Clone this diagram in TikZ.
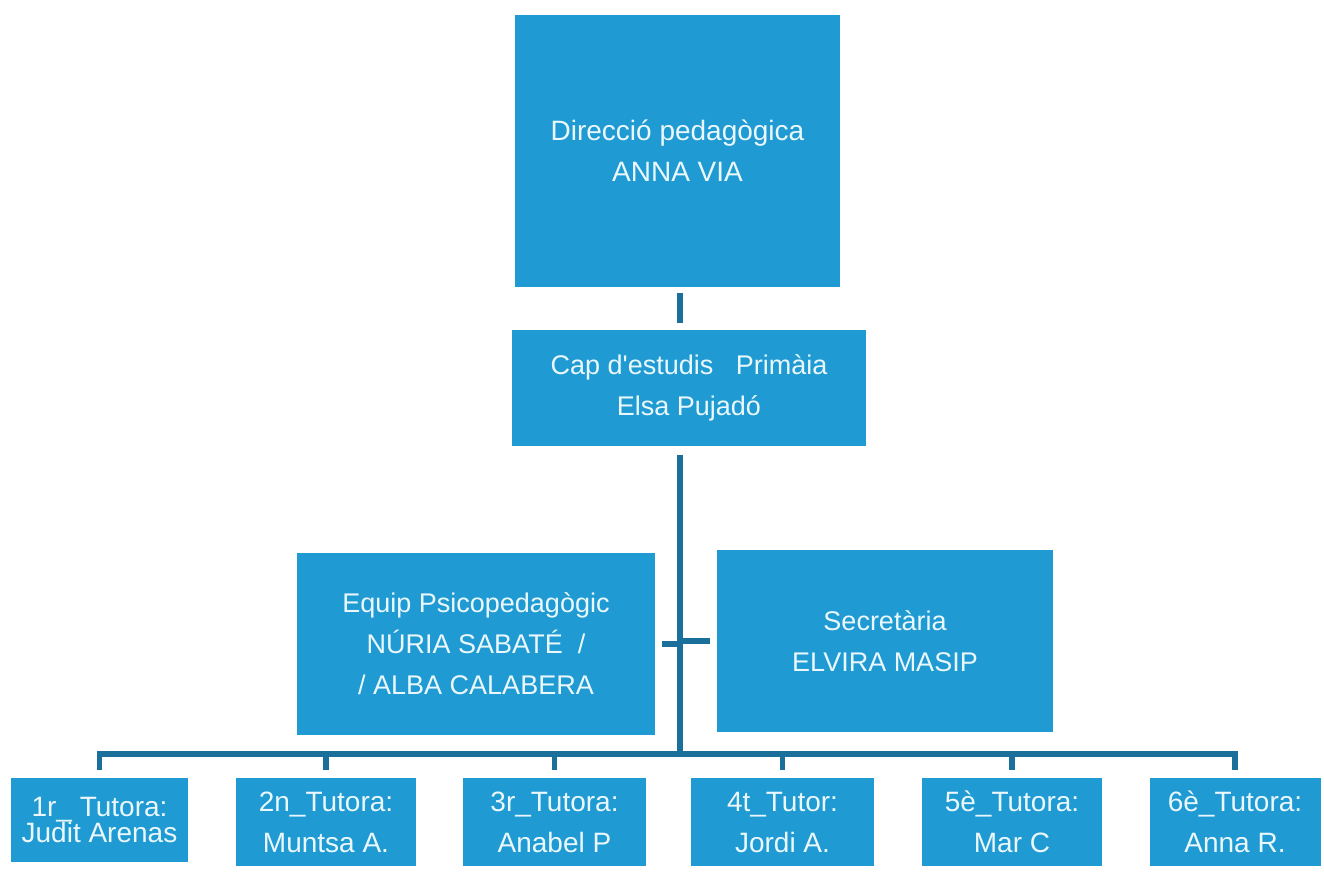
\documentclass[tikz,border=0pt]{standalone}
\usepackage{fontspec}
\setmainfont{Liberation Sans}
\usetikzlibrary{positioning,calc}
\definecolor{boxblue}{HTML}{1F9AD2}
\definecolor{linkblue}{HTML}{1B6F9B}
\definecolor{boxtext}{HTML}{EAF8FD}

\begin{document}
\begin{tikzpicture}[
    x=1pt, y=-1pt,
    box/.style={rectangle, fill=boxblue, text=boxtext, align=center, inner sep=0pt, font=\fontsize{27}{41}\selectfont},
    tutor/.style={box, minimum height=88pt, font=\fontsize{28}{41}\selectfont},
    link/.style={draw=linkblue, line width=5.5pt}
  ]
    \fill[white] (0,0) rectangle (1324,892);

    % Nodes - top of the chart
    \node (dir) [box, minimum width=325pt, minimum height=272pt, font=\fontsize{28}{41}\selectfont] at (677.5,151) {Direcció pedagògica\\ANNA VIA};
    \node (cap) [box, minimum width=354pt, minimum height=116pt] at (689,388) {Cap d\textquotesingle estudis~~~Primàia\\Elsa Pujadó};

    % Side boxes
    \node (equip) [box, minimum width=358pt, minimum height=182pt] at (476,644) {Equip Psicopedagògic\\NÚRIA SABATÉ~~/\\/ ALBA CALABERA};
    \node (secr) [box, minimum width=336pt, minimum height=182pt] at (885,641) {Secretària\\ELVIRA MASIP};

    % Tutors
    \node (t1) [tutor, minimum width=177pt, minimum height=84pt, font=\fontsize{28}{25}\selectfont] at (99.5,820) {1r\_~Tutora:\\Judit Arenas};
    \node (t2) [tutor, minimum width=180pt] at (326,822) {2n\_Tutora:\\Muntsa A.};
    \node (t3) [tutor, minimum width=183pt] at (554.5,822) {3r\_Tutora:\\Anabel P};
    \node (t4) [tutor, minimum width=183pt] at (782.5,822) {4t\_Tutor:\\Jordi A.};
    \node (t5) [tutor, minimum width=180pt] at (1012,822) {5è\_Tutora:\\Mar C};
    \node (t6) [tutor, minimum width=171pt] at (1235,822) {6è\_Tutora:\\Anna R.};

    \coordinate (spine) at (680,0);
    \coordinate (bus) at (680,754);

    % Connections
    \draw [link, shorten <=6pt, shorten >=7pt] (dir.south -| spine) -- (cap.north -| spine);
    \draw [link, shorten <=9pt] (cap.south -| spine) -- (bus);
    \draw [link, shorten <=7pt] (equip.east) -- (equip.east -| spine);
    \draw [link, shorten <=7pt] (secr.west) -- (secr.west -| spine);
    \draw [link, shorten <=8pt, shorten >=8pt] (t1.north) -- (bus -| t1.north) -- (bus -| t6.north) -- (t6.north);
    \foreach \t in {t2,t3,t4,t5}
      \draw [link, shorten >=8pt] (bus -| \t.north) -- (\t.north);
\end{tikzpicture}
\end{document}
